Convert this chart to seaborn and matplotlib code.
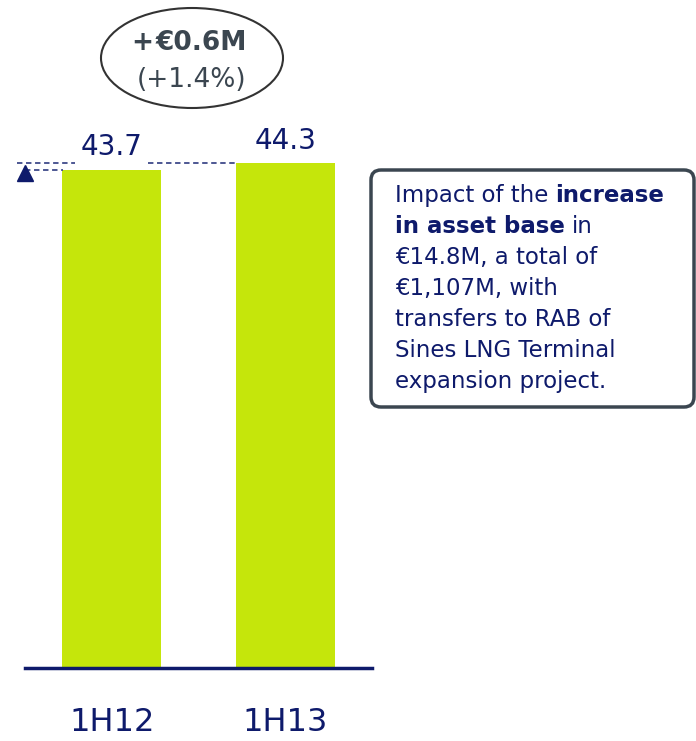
import seaborn as sns
import pandas as pd
import matplotlib.pyplot as plt
from matplotlib.patches import Ellipse, FancyBboxPatch

# data
periods = ["1H12", "1H13"]
values = [43.7, 44.3]
change_sign = "+"
change_abs = "€0.6M"
change_pct = "(+1.4%)"
# (normal part, bold part, bold first?)
note_lines = [
    ("Impact of the", "increase", False),
    (" in", "in asset base", True),
    ("€14.8M, a total of", "", False),
    ("€1,107M, with", "", False),
    ("transfers to RAB of", "", False),
    ("Sines LNG Terminal", "", False),
    ("expansion project.", "", False),
]

NAVY = "#0E1A6B"
LIME = "#C5E60B"
GREY = "#3B4650"
DASH = "#3F4A8A"

sns.set_theme(style="white")
plt.rcParams['font.family'] = ['DejaVu Sans']

W, H = 696, 741
fig = plt.figure(figsize=(W / 100, H / 100), dpi=100)
fig.patch.set_facecolor("white")

ax = fig.add_axes([25 / W, 73 / H, 347 / W, 668 / H])
ax.patch.set_alpha(0)
df = pd.DataFrame({"period": periods, "value": values})
sns.barplot(data=df, x="period", y="value", color=LIME, saturation=1,
            width=0.57, errorbar=None, linewidth=0, ax=ax)
ax.set_xlim(-0.5, 1.5)
ax.set_ylim(0, 58.6)
ax.set_xlabel("")
ax.set_ylabel("")
ax.set_yticks([])
sns.despine(ax=ax, left=True)
ax.spines["bottom"].set_color(NAVY)
ax.spines["bottom"].set_linewidth(2.5)
ax.tick_params(axis="x", length=0, pad=28, labelsize=23, labelcolor=NAVY)

# value labels
for i, v in enumerate(values):
    ax.text(i, v + 1.27, f"{v}", ha="center", va="baseline", fontsize=20, color=NAVY)

# dashed reference lines and arrow
ax.plot([-0.546, -0.213], [values[1], values[1]], ls=(0, (3, 2)), color=DASH, lw=1.3, clip_on=False)
ax.plot([0.207, 0.72], [values[1], values[1]], ls=(0, (3, 2)), color=DASH, lw=1.3, clip_on=False)
ax.plot([-0.5, -0.28], [values[0], values[0]], ls=(0, (3, 2)), color=DASH, lw=1.3, clip_on=False)
ax.plot(-0.5, 43.4, marker="^", ms=11, color=NAVY, clip_on=False)

# overlay in pixel coordinates for the callouts
ov = fig.add_axes([0, 0, 1, 1])
ov.set_xlim(0, W)
ov.set_ylim(H, 0)
ov.axis("off")
ov.patch.set_alpha(0)

ov.add_patch(Ellipse((192, 58), 182, 100, facecolor="none", edgecolor="#333333", lw=1.5))
ov.text(153, 50, change_sign, ha="right", va="baseline", fontsize=19, fontweight="bold", color=GREY)
ov.text(156, 50, change_abs, ha="left", va="baseline", fontsize=19, fontweight="bold", color=GREY)
ov.text(192, 87, change_pct, ha="center", va="baseline", fontsize=19, color=GREY)

ov.add_patch(FancyBboxPatch((371, 170), 323, 237, boxstyle="round,pad=0,rounding_size=10",
                            facecolor="white", edgecolor=GREY, lw=2.5))
for k, (normal, bold, bold_first) in enumerate(note_lines):
    y = 202 + 31 * k
    if bold_first:
        t = ov.text(395, y, bold, ha="left", va="baseline", fontsize=16.5, fontweight="bold", color=NAVY)
        ov.annotate(normal.strip(), xy=(1, 0), xycoords=t, xytext=(7, 0), textcoords="offset pixels",
                    ha="left", va="bottom", fontsize=16.5, color=NAVY)
    else:
        t = ov.text(395, y, normal, ha="left", va="baseline", fontsize=16.5, color=NAVY)
        if bold:
            ov.annotate(bold, xy=(1, 0), xycoords=t, xytext=(7, 0), textcoords="offset pixels",
                        ha="left", va="bottom", fontsize=16.5, fontweight="bold", color=NAVY)

fig.savefig("out.png", dpi=100)
